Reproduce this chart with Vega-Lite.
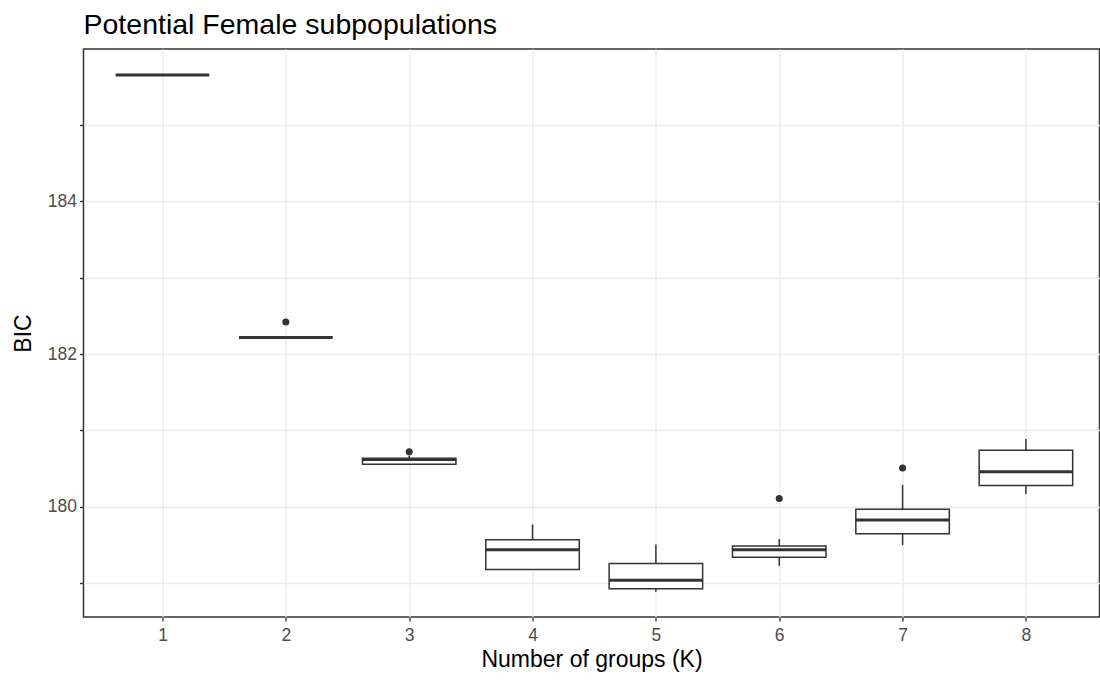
{
  "$schema": "https://vega.github.io/schema/vega-lite/v6.json",
  "width": 1016,
  "height": 568,
  "autosize": {"type": "none"},
  "padding": {"left": 83.5, "top": 49, "right": 0, "bottom": 65},
  "background": "white",
  "title": {
    "text": "Potential Female subpopulations",
    "anchor": "start",
    "frame": "group",
    "font": "Liberation Sans",
    "fontSize": 28.5,
    "fontWeight": "normal",
    "color": "#000000",
    "baseline": "alphabetic",
    "offset": 16,
    "dy": 29
  },
  "datasets": {
    "boxes": [
      {"k": 1, "lower": 185.65, "q1": 185.65, "median": 185.65, "q3": 185.65, "upper": 185.65},
      {"k": 2, "lower": 182.215, "q1": 182.215, "median": 182.215, "q3": 182.215, "upper": 182.215},
      {"k": 3, "lower": 180.557, "q1": 180.557, "median": 180.62, "q3": 180.636, "upper": 180.67},
      {"k": 4, "lower": 179.18, "q1": 179.18, "median": 179.44, "q3": 179.57, "upper": 179.77},
      {"k": 5, "lower": 178.89, "q1": 178.93, "median": 179.04, "q3": 179.26, "upper": 179.51},
      {"k": 6, "lower": 179.23, "q1": 179.34, "median": 179.44, "q3": 179.49, "upper": 179.58},
      {"k": 7, "lower": 179.5, "q1": 179.65, "median": 179.83, "q3": 179.97, "upper": 180.29},
      {"k": 8, "lower": 180.17, "q1": 180.28, "median": 180.46, "q3": 180.74, "upper": 180.89}
    ],
    "outliers": [
      {"k": 2, "bic": 182.42},
      {"k": 3, "bic": 180.72},
      {"k": 6, "bic": 180.11},
      {"k": 7, "bic": 180.51}
    ]
  },
  "encoding": {
    "x": {
      "field": "k",
      "type": "quantitative",
      "scale": {"domain": [0.4, 8.556], "nice": false, "zero": false},
      "axis": {
        "values": [1, 2, 3, 4, 5, 6, 7, 8],
        "format": "d",
        "title": "Number of groups (K)"
      }
    }
  },
  "layer": [
    {
      "data": {"name": "boxes"},
      "mark": {"type": "rule", "color": "#333333", "strokeWidth": 1.5},
      "encoding": {
        "y": {
          "field": "q3",
          "type": "quantitative",
          "title": "BIC",
          "scale": {"domain": [178.56, 185.99], "nice": false, "zero": false},
          "axis": {
            "values": [179, 180, 181, 182, 183, 184, 185],
            "format": "d",
            "labelExpr": "datum.value % 2 == 0 ? datum.label : ''",
            "encode": {
              "ticks": {"update": {"strokeOpacity": {"signal": "datum.value % 2 == 0 ? 1 : 0"}}},
              "grid": {"update": {"strokeWidth": {"signal": "datum.value % 2 == 0 ? 1.4 : 0.8"}}}
            }
          }
        },
        "y2": {"field": "upper"}
      }
    },
    {
      "data": {"name": "boxes"},
      "mark": {"type": "rule", "color": "#333333", "strokeWidth": 1.5},
      "encoding": {
        "y": {"field": "lower", "type": "quantitative", "title": "BIC", "scale": {"domain": [178.56, 185.99], "nice": false, "zero": false}},
        "y2": {"field": "q1"}
      }
    },
    {
      "data": {"name": "boxes"},
      "mark": {"type": "bar", "size": 93.5, "fill": "white", "stroke": "#333333", "strokeWidth": 1.5},
      "encoding": {
        "y": {"field": "q1", "type": "quantitative", "title": "BIC", "scale": {"domain": [178.56, 185.99], "nice": false, "zero": false}},
        "y2": {"field": "q3"}
      }
    },
    {
      "data": {"name": "boxes"},
      "mark": {"type": "tick", "orient": "horizontal", "size": 93.5, "thickness": 3, "color": "#333333", "opacity": 1},
      "encoding": {
        "y": {"field": "median", "type": "quantitative", "title": "BIC", "scale": {"domain": [178.56, 185.99], "nice": false, "zero": false}}
      }
    },
    {
      "data": {"name": "outliers"},
      "mark": {"type": "point", "filled": true, "size": 50, "color": "#333333", "opacity": 1},
      "encoding": {
        "y": {"field": "bic", "type": "quantitative", "title": "BIC", "scale": {"domain": [178.56, 185.99], "nice": false, "zero": false}}
      }
    }
  ],
  "config": {
    "font": "Liberation Sans",
    "view": {"stroke": "#333333", "strokeWidth": 1.5},
    "axis": {
      "domain": false,
      "grid": true,
      "gridColor": "#EBEBEB",
      "gridWidth": 1.4,
      "tickColor": "#333333",
      "tickWidth": 1.4,
      "tickSize": 4,
      "labelFont": "Liberation Sans",
      "labelFontSize": 17.5,
      "labelColor": "#4D4D4D",
      "titleFont": "Liberation Sans",
      "titleFontSize": 23,
      "titleFontWeight": "normal",
      "titleColor": "#000000"
    },
    "axisX": {"labelPadding": 5, "titlePadding": 5},
    "axisY": {"labelPadding": 3, "titlePadding": 12}
  }
}
